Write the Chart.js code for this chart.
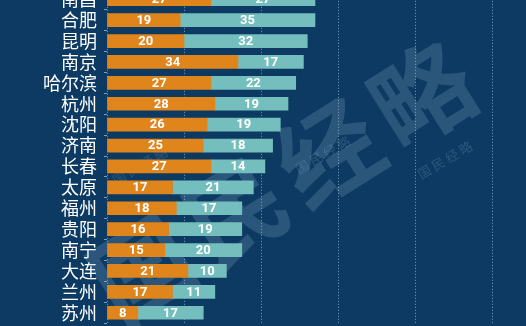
<!DOCTYPE html>
<html>
<head>
<meta charset="utf-8">
<script src="https://cdn.jsdelivr.net/npm/chart.js@4.4.1/dist/chart.umd.min.js"></script>
<style>
  html, body { margin: 0; padding: 0; background: #0d3a62; overflow: hidden; }
  #wrap { position: absolute; left: 0; top: -29px; width: 526px; height: 370px; }
</style>
</head>
<body>
<div id="wrap"><canvas id="c"></canvas></div>
<script>
// Cities, top to bottom
const cities = ['南昌', '合肥', '昆明', '南京', '哈尔滨', '杭州', '沈阳', '济南', '长春', '太原', '福州', '贵阳', '南宁', '大连', '兰州', '苏州'];
// First segment (orange)
const seriesA = [27, 19, 20, 34, 27, 28, 26, 25, 27, 17, 18, 16, 15, 21, 17, 8];
// Second segment (teal)
const seriesB = [27, 35, 32, 17, 22, 19, 19, 18, 14, 21, 17, 19, 20, 10, 11, 17];
// Vertical guide positions
const gridTicks = [0, 20, 40, 60, 80, 100];

const ORANGE = '#e0851c';
const TEAL = '#74bebd';
const GUIDE = 'rgba(160,195,220,0.75)';
const SHIFT = 29; // canvas sits this far above the page top

// Faint diagonal brand mark behind the bars
const watermark = {
  id: 'watermark',
  beforeDatasetsDraw(chart) {
    const ctx = chart.ctx;
    const txt = '国民经略';
    ctx.save();
    ctx.fillStyle = 'rgba(150,185,215,0.22)';
    ctx.textAlign = 'center';
    ctx.textBaseline = 'middle';
    ctx.translate(282, 182 + SHIFT);
    ctx.rotate(-32 * Math.PI / 180);
    ctx.font = 'bold 100px "Noto Sans CJK SC"';
    const step = 110;
    for (let i = 0; i < txt.length; i++) {
      ctx.fillText(txt[i], (i - 1.5) * step, 0);
    }
    ctx.restore();
    const small = [[323, 155], [445, 160], [140, 166]];
    small.forEach(([x, y]) => {
      ctx.save();
      ctx.fillStyle = 'rgba(150,185,215,0.22)';
      ctx.textAlign = 'center';
      ctx.textBaseline = 'middle';
      ctx.translate(x, y + SHIFT);
      ctx.rotate(-30 * Math.PI / 180);
      ctx.font = '13px "Noto Sans CJK SC"';
      ctx.fillText(txt.split('').join(' '), 0, 0);
      ctx.restore();
    });
  }
};

// Value printed in the middle of each segment
const segmentLabels = {
  id: 'segmentLabels',
  afterDatasetsDraw(chart) {
    const ctx = chart.ctx;
    ctx.save();
    ctx.fillStyle = '#ffffff';
    ctx.font = 'bold 13px Roboto';
    ctx.textAlign = 'center';
    ctx.textBaseline = 'middle';
    chart.data.datasets.forEach((ds, di) => {
      const meta = chart.getDatasetMeta(di);
      meta.data.forEach((bar, i) => {
        const cx = (bar.x + bar.base) / 2;
        ctx.fillText(String(ds.data[i]), cx, bar.y + 0.5);
      });
    });
    ctx.restore();
  }
};

new Chart(document.getElementById('c'), {
  type: 'bar',
  data: {
    labels: cities,
    datasets: [
      { data: seriesA, backgroundColor: ORANGE, borderWidth: 0 },
      { data: seriesB, backgroundColor: TEAL, borderWidth: 0 }
    ]
  },
  options: {
    indexAxis: 'y',
    responsive: true,
    maintainAspectRatio: false,
    animation: false,
    layout: { padding: 0 },
    plugins: { legend: { display: false }, tooltip: { enabled: false } },
    datasets: { bar: { barThickness: 13 } },
    scales: {
      x: {
        stacked: true,
        min: 0,
        max: 108.8,
        afterBuildTicks(scale) { scale.ticks = gridTicks.map(v => ({ value: v })); },
        afterFit(scale) { scale.height = 0; },
        ticks: { display: false },
        grid: { color: GUIDE, lineWidth: 1, drawTicks: false },
        border: { display: false, dash: [1, 2] }
      },
      y: {
        stacked: true,
        afterFit(scale) { scale.width = 107; },
        ticks: {
          color: '#ffffff',
          font: { family: '"Noto Sans CJK SC"', size: 18 },
          padding: 7,
          autoSkip: false
        },
        grid: { drawOnChartArea: false, drawTicks: true, tickLength: 3, tickColor: GUIDE },
        border: { display: false }
      }
    }
  },
  plugins: [watermark, segmentLabels]
});
</script>
</body>
</html>
